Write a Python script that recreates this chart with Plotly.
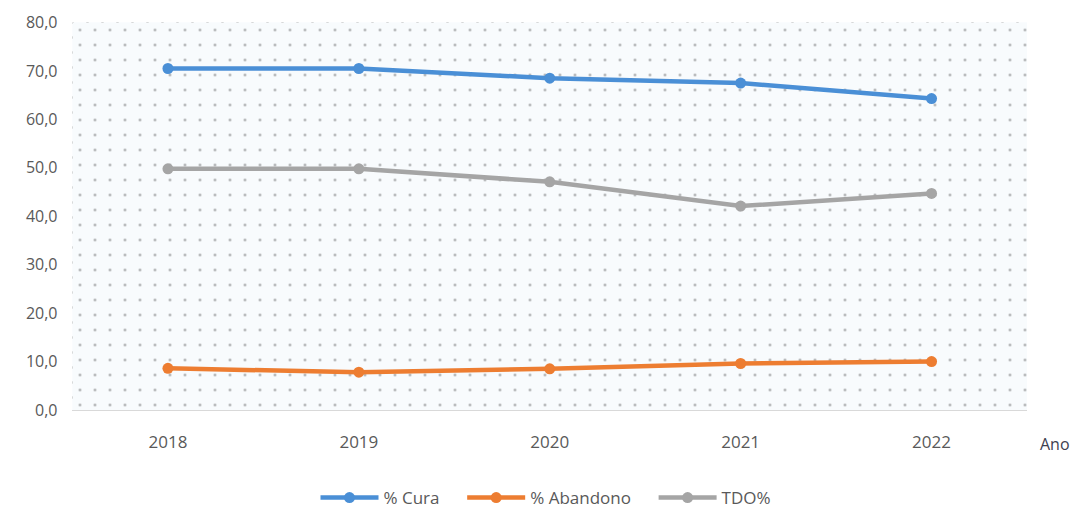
import plotly.graph_objects as go

# Indicadores por ano
anos = [2018, 2019, 2020, 2021, 2022]
cura = [70.5, 70.5, 68.5, 67.5, 64.3]
abandono = [8.6, 7.8, 8.5, 9.6, 10.0]
tdo = [49.8, 49.8, 47.1, 42.1, 44.7]
y_ticks = [0, 10, 20, 30, 40, 50, 60, 70, 80]

# legend labels, padded so the entries sit further apart
pad = "\u00a0" * 4
series = [
    ("% Cura" + pad, cura, "#4a8fd6"),
    ("% Abandono" + pad, abandono, "#ed7d31"),
    ("TDO%", tdo, "#a5a5a5"),
]

W, H = 1083, 508
# plot area in pixels and half-step of the dotted texture
left, right, top, bottom = 72, 1027, 22, 410
step = 15
half = step / 2

m_l, m_t = left - half, top - half
m_r, m_b = W - right, H - bottom
paper_w = W - m_l - m_r
paper_h = H - m_t - m_b
main_x = [half / paper_w, 1]
main_y = [0, 1 - half / paper_h]

x_lo, x_hi = anos[0] - 0.5, anos[-1] + 0.5
y_lo, y_hi = y_ticks[0], y_ticks[-1]

fig = go.Figure()


def dotted(xaxis, yaxis, xs, ys):
    return go.Scatter(
        x=xs, y=ys, xaxis=xaxis, yaxis=yaxis,
        mode="none", fill="toself", fillcolor="#f8fbfd",
        fillpattern=dict(shape=".", size=step, solidity=0.02,
                         fgcolor="#3c3c3c", bgcolor="#f8fbfd", fillmode="overlay"),
        showlegend=False, hoverinfo="skip",
    )


# Two offset dot grids give the staggered texture behind the lines
fig.add_trace(dotted("x", "y", [half / paper_w, 1, 1, half / paper_w, half / paper_w],
                     [0, 0, 1 - half / paper_h, 1 - half / paper_h, 0]))
fig.add_trace(dotted("x2", "y2", [0, 1, 1, 0, 0], [0, 0, 1, 1, 0]))

for nome, valores, cor in series:
    fig.add_trace(go.Scatter(
        x=anos, y=valores, name=nome, mode="lines+markers",
        xaxis="x3", yaxis="y3",
        line=dict(color=cor, width=4.5),
        marker=dict(color=cor, size=11),
    ))

hidden = dict(visible=False, showgrid=False, zeroline=False, fixedrange=True)

fig.update_layout(
    width=W, height=H,
    margin=dict(l=m_l, r=m_r, t=m_t, b=m_b, autoexpand=False),
    paper_bgcolor="white", plot_bgcolor="rgba(0,0,0,0)",
    separators=",.",
    font=dict(family="Open Sans, Noto Sans, sans-serif", color="#595959"),
    xaxis=dict(domain=[0, 1], range=[0, 1], **hidden),
    yaxis=dict(domain=[0, 1], range=[0, 1], **hidden),
    xaxis2=dict(domain=main_x, range=[0, 1], anchor="y2", **hidden),
    yaxis2=dict(domain=main_y, range=[0, 1], anchor="x2", **hidden),
    xaxis3=dict(domain=main_x, range=[x_lo, x_hi], anchor="y3",
                tickvals=anos, ticktext=[str(a) for a in anos],
                showgrid=False, zeroline=False, showline=True, linecolor="#d9d9d9",
                linewidth=1, ticks="", ticklabelstandoff=17, automargin=False,
                tickfont=dict(size=17, color="#595959")),
    yaxis3=dict(domain=main_y, range=[y_lo, y_hi], anchor="x3",
                tickvals=y_ticks, tickformat=".1f",
                showgrid=False, zeroline=False, showline=False, ticks="",
                ticklabelstandoff=14, automargin=False,
                tickfont=dict(size=16, color="#595959")),
    legend=dict(orientation="h", x=0.5, xanchor="center",
                yref="container", y=(H - 498) / H, yanchor="middle",
                font=dict(size=17, color="#595959"), itemwidth=58),
    annotations=[dict(text="Ano", xref="paper", yref="paper",
                      x=(1055 - m_l) / paper_w, y=(bottom - 444) / paper_h,
                      xanchor="center", yanchor="middle", showarrow=False,
                      font=dict(size=16, color="#404050"))],
)

fig.write_html("out.html")
